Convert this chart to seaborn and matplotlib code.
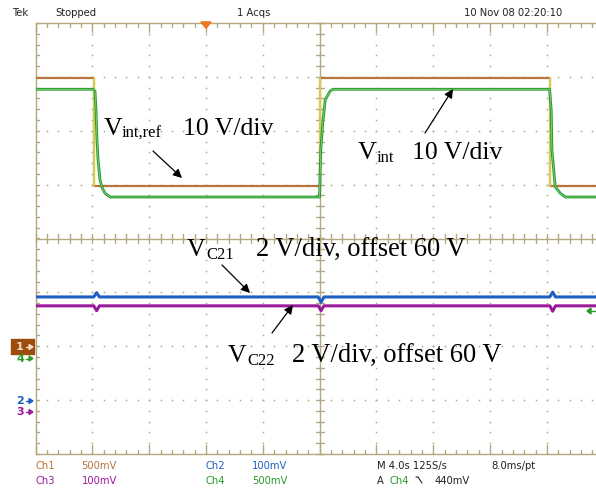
import numpy as np
import pandas as pd
import matplotlib
matplotlib.use('Agg')
import matplotlib.pyplot as plt
import seaborn as sns
from matplotlib.patches import Rectangle, Polygon
from matplotlib.lines import Line2D

# trace data (time in s, values in V)
t_ref = [0, 4.14, 4.14, 20.04, 20.04, 36.2, 36.2, 40]
v_ref = [50, 50, 30, 30, 50, 50, 30, 30]

t_int = [0, 4.05, 4.19, 4.26, 4.33, 4.40, 4.54, 4.68, 4.89, 5.25,
         19.99, 20.04, 20.08, 20.22, 20.39, 20.74, 20.96,
         36.18, 36.30, 36.35, 36.58, 36.94, 37.29, 40]
v_int = [50.0, 50.0, 49.6, 46.0, 40.5, 37.0, 33.2, 31.8, 30.7, 30.0,
         30.0, 35.0, 38.7, 43.7, 48.0, 49.7, 50.0,
         50.0, 46.1, 38.7, 31.9, 30.7, 30.0, 30.0]

t_c21 = [0, 4.1, 4.3, 4.5, 19.9, 20.1, 20.3, 36.2, 36.4, 36.6, 40]
v_c21 = [63.86, 63.86, 64.02, 63.86, 63.86, 63.66, 63.86, 63.86, 64.04, 63.86, 63.86]
t_c22 = [0, 4.1, 4.3, 4.5, 19.9, 20.1, 20.3, 36.2, 36.4, 36.6, 40]
v_c22 = [63.94, 63.94, 63.76, 63.94, 63.94, 63.76, 63.94, 63.94, 63.74, 63.94, 63.94]

# channel settings: V/div, offset, ground position (div)
ch_scale = {'ch1': 10, 'ch2': 2, 'ch3': 2, 'ch4': 10}
ch_offset = {'ch1': 0, 'ch2': 60, 'ch3': 60, 'ch4': 0}
ch_pos = {'ch1': -2.03, 'ch2': -3.015, 'ch3': -3.22, 'ch4': -2.23}
sec_per_div = 4.0

W, H = 596, 488
GRID = '#b3a880'
C1, C2, C3, C4 = '#b8743c', '#1f5fc4', '#9c1a9c', '#2a9a2a'


def to_div(ch, v):
    return (np.asarray(v, float) - ch_offset[ch]) / ch_scale[ch] + ch_pos[ch]


def px(x, y):
    return x / W, 1 - y / H


sns.set_theme(style='white')
plt.rcParams['font.family'] = ['DejaVu Sans']

fig = plt.figure(figsize=(W / 100, H / 100), dpi=100)
ax = fig.add_axes([35.5 / W, (H - 454) / H, 568.3 / W, 431 / H])
ax.set_xlim(0, 10)
ax.set_ylim(-4, 4)
ax.axis('off')

# graticule
kw = dict(color=GRID, lw=1, clip_on=False)
ax.plot([0, 0], [-4, 4], **kw)
ax.plot([0, 10], [4, 4], **kw)
ax.plot([0, 10], [-4, -4], **kw)
ax.plot([5, 5], [-4, 4], **kw)
ax.plot([0, 10], [0, 0], **kw)
for x in np.arange(0, 10.01, 0.2):
    major = abs(x - round(x)) < 1e-6
    L = 0.16 if major else 0.07
    ax.plot([x, x], [4, 4 - L], **kw)
    ax.plot([x, x], [-4, -4 + L], **kw)
    ax.plot([x, x], [-0.08, 0.08], **kw)
for y in np.arange(-4, 4.01, 0.2):
    ax.plot([0, 0.07], [y, y], **kw)
    ax.plot([4.93, 5.07], [y, y], **kw)
dx, dy = [], []
for i in range(1, 10):
    if i == 5:
        continue
    for y in np.arange(-4, 4.01, 0.2):
        dx.append(i); dy.append(y)
for j in range(-3, 4):
    if j == 0:
        continue
    for x in np.arange(0, 10.01, 0.2):
        dx.append(x); dy.append(j)
ax.plot(dx, dy, ls='none', marker='s', ms=1.1, mew=0, color=GRID)

# traces
def trace(t, v, ch, color, lw):
    df = pd.DataFrame({'x': np.asarray(t) / sec_per_div, 'y': to_div(ch, v)})
    sns.lineplot(data=df, x='x', y='y', ax=ax, color=color, lw=lw,
                 estimator=None, sort=False, legend=False)
    return df

trace(t_c22, v_c22, 'ch3', C3, 2.2)
trace(t_c21, v_c21, 'ch2', C2, 2.2)
ref = trace(t_ref, v_ref, 'ch1', C1, 1.6)
for k in range(1, len(ref) - 1, 2):
    ax.plot(ref['x'].iloc[k:k + 2], ref['y'].iloc[k:k + 2], color='#d6d044', lw=1.4)
trace(t_int, v_int, 'ch4', C4, 2.0)
ax.plot(np.asarray(t_int) / sec_per_div, to_div('ch4', v_int), color='#8fdc8f', lw=0.5)
ax.set_xlabel('')
ax.set_ylabel('')

# trigger position marker
ax.add_patch(Polygon([[2.91, 4.02], [3.09, 4.02], [3.0, 3.9]], closed=True,
                     color='#f07820', clip_on=False, zorder=5))

# header / footer readouts
hk = dict(fontsize=7.2, va='center', ha='left', color='#222222')
fig.text(*px(12, 13), 'Tek', **hk)
fig.text(*px(55, 13), 'Stopped', **hk)
fig.text(*px(237, 13), '1 Acqs', **hk)
fig.text(*px(464, 13), '10 Nov 08 02:20:10', **hk)
fk = dict(fontsize=7.2, va='center', ha='left')
fig.text(*px(36, 466), 'Ch1', color=C1, **fk)
fig.text(*px(81, 466), '500mV', color=C1, **fk)
fig.text(*px(36, 481), 'Ch3', color=C3, **fk)
fig.text(*px(82, 481), '100mV', color=C3, **fk)
fig.text(*px(206, 466), 'Ch2', color=C2, **fk)
fig.text(*px(252, 466), '100mV', color=C2, **fk)
fig.text(*px(206, 481), 'Ch4', color=C4, **fk)
fig.text(*px(252, 481), '500mV', color=C4, **fk)
fig.text(*px(377, 466), 'M 4.0s 125S/s', color='#222222', **fk)
fig.text(*px(491, 466), '8.0ms/pt', color='#222222', **fk)
fig.text(*px(377, 481), 'A', color='#222222', **fk)
fig.text(*px(390, 481), 'Ch4', color=C4, **fk)
fig.text(*px(435, 481), '440mV', color='#222222', **fk)
fig.add_artist(Line2D([416 / W, 418 / W, 422 / W], [1 - 477 / H, 1 - 477 / H, 1 - 483 / H],
                      color='#222222', lw=0.8))

# channel ground markers on the left
fig.add_artist(Rectangle(px(11, 354), 23 / W, 15 / H, color='#9c4c0c'))
mk = dict(fontsize=8, va='center', ha='center', fontweight='bold')
fig.text(*px(20, 347), '1', color='#f6dcc0', **mk)
fig.text(*px(20, 359), '4', color=C4, **mk)
fig.text(*px(20, 401), '2', color=C2, **mk)
fig.text(*px(20, 412), '3', color=C3, **mk)
for y, c in [(347, '#f6dcc0'), (358.5, C4), (401, C2), (412, C3)]:
    fig.add_artist(Line2D([26 / W, 30 / W], [1 - y / H] * 2, color=c, lw=1))
    fig.add_artist(Polygon([px(29, y - 2.5), px(29, y + 2.5), px(33, y)], closed=True, color=c))
# trigger level marker on the right
fig.add_artist(Polygon([px(587, 311), px(591, 308), px(591, 314)], closed=True, color=C4))
fig.add_artist(Line2D([590 / W, 596 / W], [1 - 311 / H] * 2, color=C4, lw=1))

# annotations
sk = dict(family='Liberation Serif', va='baseline', ha='left', color='black')
big, small = 18.5, 12
fig.text(*px(104, 135), 'V', fontsize=big, **sk)
fig.text(*px(122, 138), 'int,ref', fontsize=small, **sk)
fig.text(*px(183, 135), '10 V/div', fontsize=big, **sk)
fig.text(*px(358, 159), 'V', fontsize=big, **sk)
fig.text(*px(377, 162), 'int', fontsize=small, **sk)
fig.text(*px(412, 159), '10 V/div', fontsize=big, **sk)
fig.text(*px(187, 256), 'V', fontsize=big, **sk)
fig.text(*px(206, 259), 'C21', fontsize=small, **sk)
fig.text(*px(256, 256), '2 V/div, offset 60 V', fontsize=19.1, **sk)
fig.text(*px(228, 362), 'V', fontsize=big, **sk)
fig.text(*px(247, 365), 'C22', fontsize=small, **sk)
fig.text(*px(292, 362), '2 V/div, offset 60 V', fontsize=19.1, **sk)

ap = dict(arrowstyle='-|>', color='black', lw=0.9, mutation_scale=13, shrinkA=0, shrinkB=0)
for (x0, y0), (x1, y1) in [((153, 151), (182, 178)), ((425, 133), (453, 89)),
                           ((222, 265), (250, 293)), ((272, 333), (293, 305))]:
    ax.annotate('', xy=px(x1, y1), xycoords='figure fraction',
                xytext=px(x0, y0), textcoords='figure fraction', arrowprops=ap)

fig.savefig('out.png', dpi=100)
